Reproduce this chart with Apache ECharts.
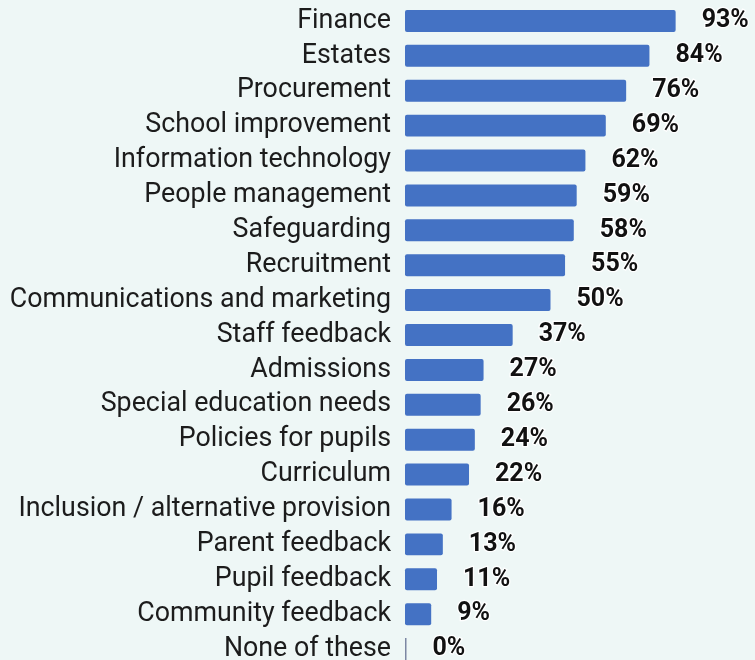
<!DOCTYPE html>
<html>
<head>
<meta charset="utf-8">
<script src="https://cdn.jsdelivr.net/npm/echarts@6/dist/echarts.min.js"></script>
<style>
  html, body { margin: 0; padding: 0; background: #eef7f6; }
  #chart { width: 755px; height: 660px; }
</style>
</head>
<body>
<div id="chart"></div>
<script>
// Areas of school business, share of respondents (%)
const categories = [
  'Finance', 'Estates', 'Procurement', 'School improvement', 'Information technology',
  'People management', 'Safeguarding', 'Recruitment', 'Communications and marketing',
  'Staff feedback', 'Admissions', 'Special education needs', 'Policies for pupils',
  'Curriculum', 'Inclusion / alternative provision', 'Parent feedback', 'Pupil feedback',
  'Community feedback', 'None of these'
];
const values = [93, 84, 76, 69, 62, 59, 58, 55, 50, 37, 27, 26, 24, 22, 16, 13, 11, 9, 0];

// zero-valued rows are drawn as a thin grey stub
const barData = values.map(v => v === 0
  ? { value: v, itemStyle: { color: '#7c87a3', borderRadius: 0 } }
  : v);

const chart = echarts.init(document.getElementById('chart'));
chart.setOption({
  backgroundColor: '#eef7f6',
  animation: false,
  grid: { left: 405, width: 291, top: 3.5, height: 663, outerBoundsMode: 'none', containLabel: false },
  xAxis: {
    type: 'value', min: 0, max: 100, show: false
  },
  yAxis: {
    type: 'category',
    data: categories,
    inverse: true,
    axisLine: { show: false },
    axisTick: { show: false },
    axisLabel: {
      interval: 0,
      margin: 14,
      fontFamily: 'Roboto',
      fontSize: 26.8,
      color: '#1c1c1c'
    }
  },
  series: [{
    type: 'bar',
    data: barData,
    barWidth: '63%',
    barMinHeight: 1.5,
    itemStyle: { color: '#4472c4', borderRadius: 2 },
    label: {
      show: true,
      position: 'right',
      distance: 26,
      formatter: '{c}%',
      fontFamily: 'Roboto',
      fontWeight: 'bold',
      fontSize: 25,
      color: '#111',
      textBorderColor: '#ffffff',
      textBorderWidth: 2.5
    }
  }]
});
</script>
</body>
</html>
